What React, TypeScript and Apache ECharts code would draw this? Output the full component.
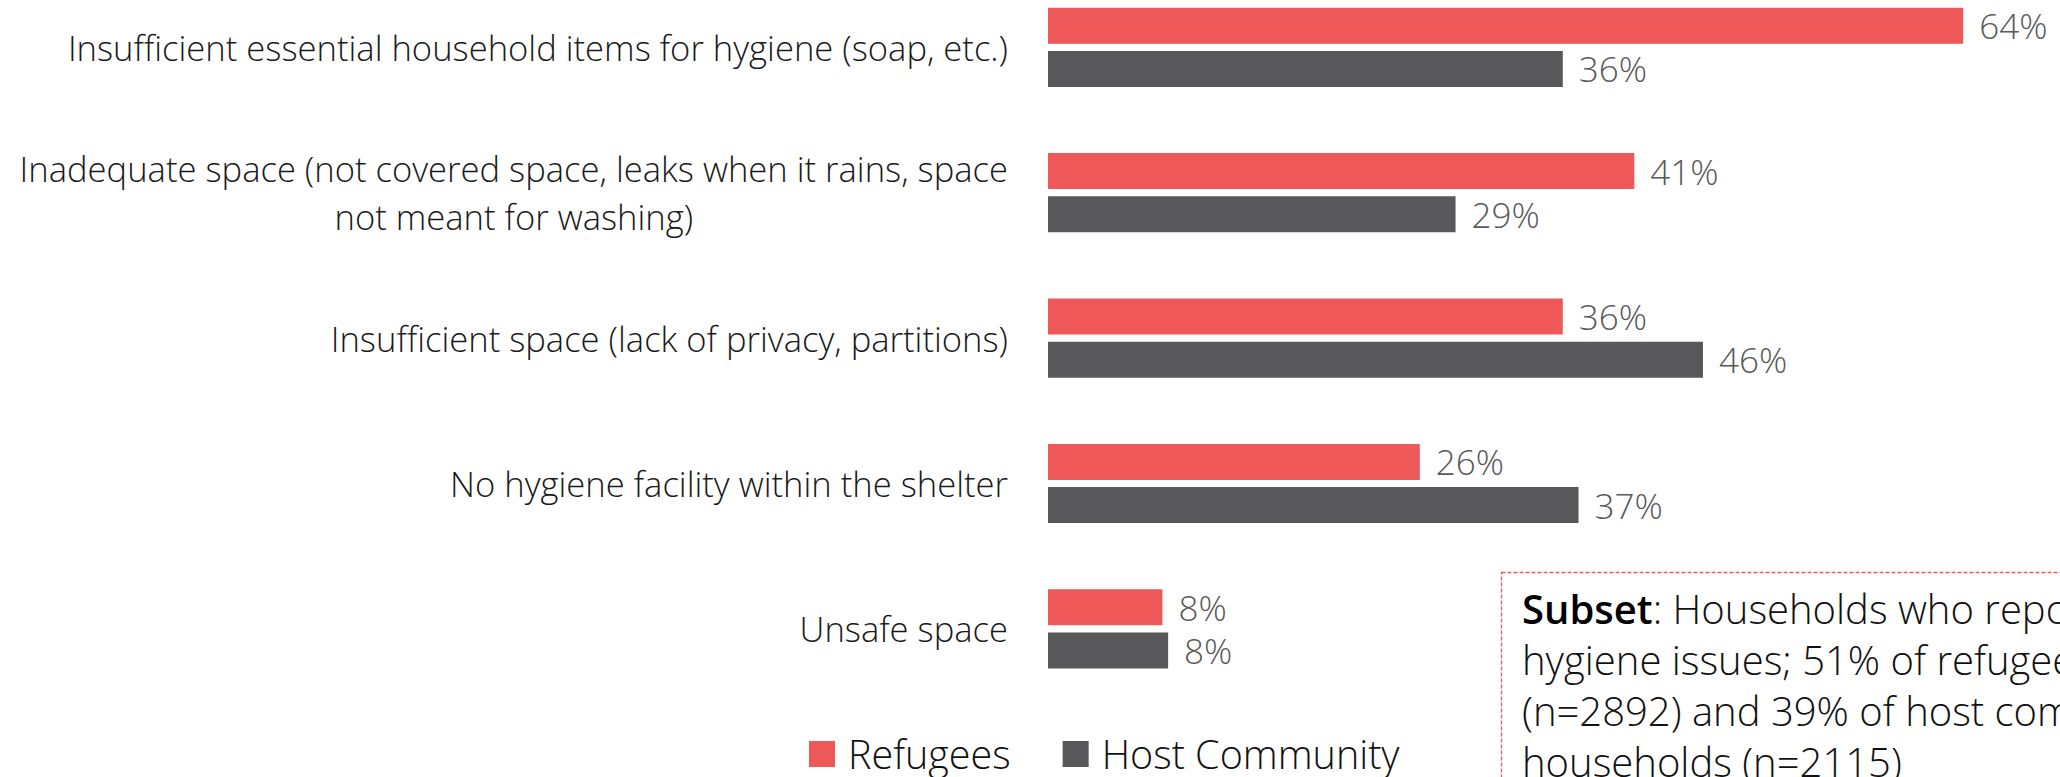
import React, { useEffect, useRef } from "react";
import * as echarts from "echarts";

const categories = [
  "Insufficient essential household items for hygiene (soap, etc.)",
  "Inadequate space (not covered space, leaks when it rains, space\nnot meant for washing)",
  "Insufficient space (lack of privacy, partitions)",
  "No hygiene facility within the shelter",
  "Unsafe space",
];
const seriesNames = ["Refugees", "Host Community"];
const refugeesValues = [64, 41, 36, 26, 8];
const hostValues = [36, 28.5, 45.8, 37.1, 8.4];
const noteLines = [
  "{b|Subset}: Households who reported",
  "hygiene issues; 51% of refugees",
  "(n=2892) and 39% of host community",
  "households (n=2115)",
];

const RED = "#EE5859";
const GREY = "#58585A";
const FONT = "'Open Sans', Roboto, sans-serif";

export default function App() {
  const ref = useRef<HTMLDivElement>(null);
  useEffect(() => {
    document.body.style.margin = "0";
    const chart = echarts.init(ref.current!, null, { renderer: "svg" });
    const valueLabel = {
      show: true,
      position: "right",
      distance: 16,
      color: "#595959",
      fontFamily: FONT,
      fontWeight: 300,
      fontSize: 35,
      formatter: (p: any) => Math.round(p.value) + "%",
    };
    chart.setOption({
      animation: false,
      backgroundColor: "#ffffff",
      grid: {
        left: 1048,
        right: 11,
        top: -25.4,
        bottom: 75.4,
        containLabel: false,
        outerBoundsMode: "none",
      },
      xAxis: { type: "value", min: 0, max: 70, show: false },
      yAxis: {
        type: "category",
        inverse: true,
        data: categories,
        axisLine: { show: false },
        axisTick: { show: false },
        splitLine: { show: false },
        axisLabel: {
          margin: 40,
          align: "right",
          formatter: (v: string) => v.split("\n").map((l) => `{c|${l}}`).join("\n"),
          rich: {
            c: {
              align: "center",
              fontFamily: FONT,
              fontWeight: 300,
              fontSize: 34.6,
              lineHeight: 48,
              color: "#1a1a1a",
            },
          },
        },
      },
      legend: {
        data: seriesNames,
        left: 809,
        top: 734,
        padding: 0,
        icon: "rect",
        itemWidth: 26,
        itemHeight: 26,
        itemGap: 52,
        textStyle: {
          fontFamily: FONT,
          fontWeight: 300,
          fontSize: 39.5,
          lineHeight: 40,
          color: "#111111",
          padding: [0, 0, 0, 8],
        },
      },
      series: [
        {
          name: seriesNames[0],
          type: "bar",
          data: refugeesValues,
          barWidth: 36,
          barGap: "20%",
          itemStyle: { color: RED },
          label: valueLabel,
        },
        {
          name: seriesNames[1],
          type: "bar",
          data: hostValues,
          barWidth: 36,
          barGap: "20%",
          itemStyle: { color: GREY },
          label: valueLabel,
        },
      ],
      graphic: [
        {
          type: "rect",
          shape: { x: 1501.5, y: 572.5, width: 700, height: 300 },
          style: { fill: "none", stroke: RED, lineWidth: 1.3, lineDash: [4, 2] },
        },
        {
          type: "text",
          x: 1522,
          y: 582.5,
          style: {
            text: noteLines.join("\n"),
            fontFamily: FONT,
            fontWeight: 300,
            fontSize: 40,
            lineHeight: 51,
            fill: "#111111",
            verticalAlign: "top",
            align: "left",
            rich: {
              b: { fontFamily: FONT, fontWeight: 600, fontSize: 40, lineHeight: 51, fill: "#000000" },
            },
          },
        },
      ],
    });
    return () => chart.dispose();
  }, []);
  return <div ref={ref} style={{ width: 2060, height: 777 }} />;
}
